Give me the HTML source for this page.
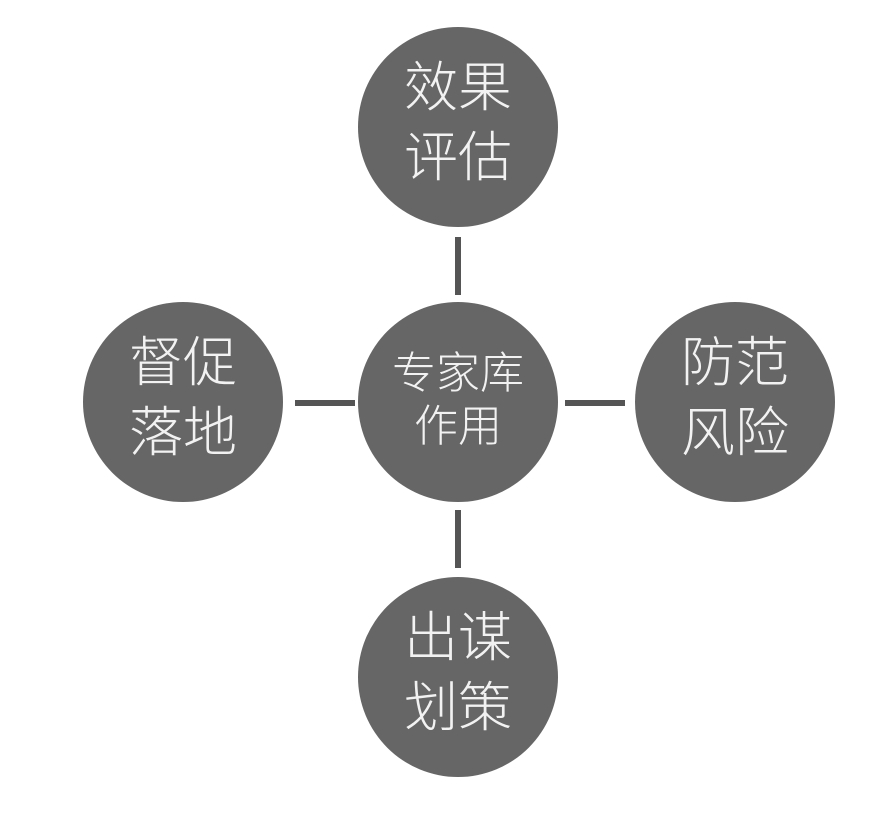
<!DOCTYPE html>
<html><head><meta charset="utf-8"><style>
body{margin:0;background:#fff;width:896px;height:816px;overflow:hidden}
</style></head><body>
<svg width="896" height="816" xmlns="http://www.w3.org/2000/svg" font-family="'Liberation Sans','Noto Sans CJK SC',sans-serif" fill="#f2f2f2">
<g stroke="#555" stroke-width="6">
<line x1="458" y1="237" x2="458" y2="295"/>
<line x1="458" y1="510" x2="458" y2="568"/>
<line x1="295" y1="403" x2="355" y2="403"/>
<line x1="565" y1="403" x2="625" y2="403"/>
</g>
<g fill="#666">
<circle cx="458" cy="127" r="100"/>
<circle cx="183" cy="402" r="100"/>
<circle cx="458" cy="402" r="100"/>
<circle cx="735" cy="402" r="100"/>
<circle cx="458" cy="677" r="100"/>
</g>
<g font-size="54" text-anchor="middle" font-weight="300">
<text x="458" y="106">效果</text><text x="458" y="176">评估</text>
<text x="183" y="381">督促</text><text x="183" y="451">落地</text>
<text x="735" y="381">防范</text><text x="735" y="451">风险</text>
<text x="458" y="656">出谋</text><text x="458" y="726">划策</text>
</g>
<g font-size="44" text-anchor="middle" font-weight="300">
<text x="458" y="388">专家库</text><text x="458" y="441">作用</text>
</g>
</svg>
</body></html>
